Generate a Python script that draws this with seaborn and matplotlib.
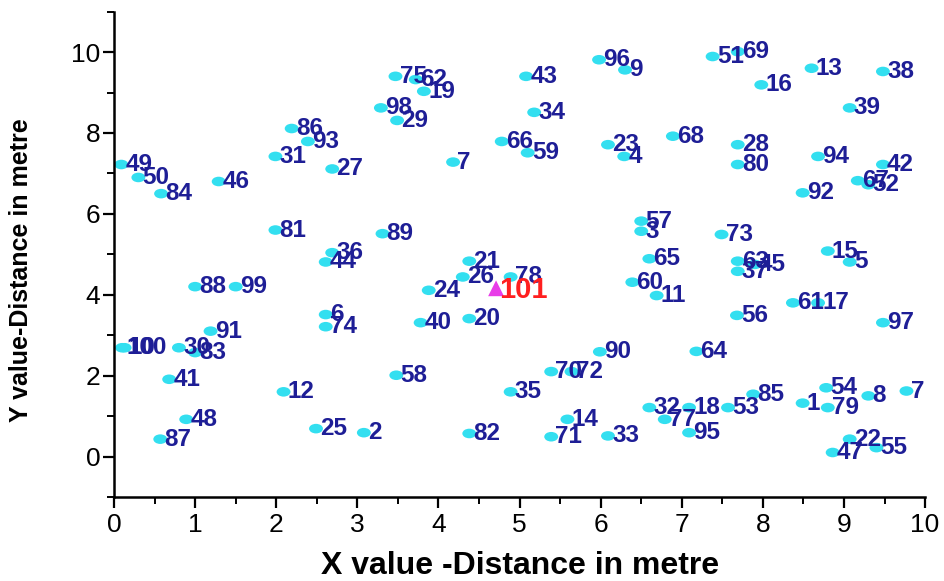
import matplotlib
matplotlib.use("Agg")
import matplotlib.pyplot as plt
import seaborn as sns
import pandas as pd
from matplotlib.ticker import MultipleLocator
from matplotlib.path import Path
from matplotlib.transforms import Affine2D

labels = ["1", "2", "3", "4", "5", "6", "7", "7", "8", "9", "10", "11", "12", "13", "14", "15",
          "16", "17", "18", "19", "20", "21", "22", "23", "24", "25", "26", "27", "28", "29",
          "30", "31", "32", "33", "34", "35", "36", "37", "38", "39", "40", "41", "42", "43",
          "44", "45", "46", "47", "48", "49", "50", "51", "52", "53", "54", "55", "56", "57",
          "58", "59", "60", "61", "62", "63", "64", "65", "66", "67", "68", "69", "70", "71",
          "72", "73", "74", "75", "77", "78", "79", "80", "81", "82", "83", "84", "85", "86",
          "87", "88", "89", "90", "91", "92", "93", "94", "95", "96", "97", "98", "99", "100"]
x_vals = [8.49, 3.08, 6.50, 6.29, 9.07, 2.61, 4.18, 9.77, 9.30, 6.30, 0.13, 6.69, 2.09, 8.60, 5.59, 8.80,
          7.98, 8.68, 7.09, 3.82, 4.38, 4.38, 9.07, 6.09, 3.88, 2.49, 4.30, 2.69, 7.69, 3.49,
          0.80, 1.99, 6.60, 6.09, 5.18, 4.89, 2.69, 7.69, 9.48, 9.07, 3.78, 0.68, 9.48, 5.08,
          2.61, 7.90, 1.29, 8.86, 0.89, 0.09, 0.30, 7.38, 9.30, 7.57, 8.78, 9.40, 7.68, 6.50,
          3.48, 5.10, 6.39, 8.37, 3.72, 7.69, 7.18, 6.60, 4.78, 9.17, 6.89, 7.69, 5.39, 5.39,
          5.64, 7.49, 2.61, 3.47, 6.79, 4.89, 8.80, 7.69, 1.99, 4.38, 1.00, 0.58, 7.88, 2.19,
          0.57, 1.00, 3.31, 5.99, 1.19, 8.49, 2.39, 8.68, 7.09, 5.98, 9.48, 3.29, 1.50, 0.10]
y_vals = [1.32, 0.59, 5.57, 7.42, 4.81, 3.51, 7.28, 1.62, 1.50, 9.56, 2.69, 3.98, 1.60, 9.60, 0.92, 5.08,
          9.19, 3.80, 1.21, 9.03, 3.41, 4.83, 0.43, 7.71, 4.11, 0.69, 4.44, 7.11, 7.71, 8.31,
          2.69, 7.42, 1.21, 0.51, 8.51, 1.60, 5.04, 4.58, 9.52, 8.62, 3.31, 1.91, 7.22, 9.40,
          4.81, 4.75, 6.80, 0.10, 0.92, 7.22, 6.90, 9.89, 6.72, 1.21, 1.70, 0.22, 3.49, 5.82,
          2.01, 7.51, 4.31, 3.80, 9.32, 4.83, 2.60, 4.89, 7.79, 6.82, 7.92, 10.01, 2.10, 0.49,
          2.10, 5.49, 3.21, 9.40, 0.92, 4.44, 1.21, 7.22, 5.60, 0.57, 2.57, 6.50, 1.54, 8.11,
          0.43, 4.20, 5.51, 2.59, 3.10, 6.52, 7.79, 7.42, 0.59, 9.81, 3.31, 8.62, 4.20, 2.69]

ref_label = "101"
ref_x = [4.71]
ref_y = [4.16]

x_title = "X value -Distance in metre"
y_title = "Y value-Distance in metre"

sns.set_style("white")
plt.rcParams['font.family'] = ['Liberation Sans', 'DejaVu Sans']

fig = plt.figure(figsize=(9.44, 5.81), dpi=100)
ax = fig.add_axes([0.1208, 0.1446, 0.8592, 0.8354])

ellipse = Path.unit_circle().transformed(Affine2D().scale(1.45, 1.0))

df = pd.DataFrame({"x": x_vals, "y": y_vals, "label": labels})
sns.scatterplot(data=df, x="x", y="y", ax=ax, color="#33dff0", s=100,
                edgecolor="none", marker=ellipse, zorder=2)
for lab, xv, yv in zip(labels, x_vals, y_vals):
    ax.annotate(lab, (xv, yv), xytext=(3, 0), textcoords="offset points",
                ha="left", va="center", fontsize=17.5, fontweight="bold",
                color="#1e1e96", zorder=3)

df_ref = pd.DataFrame({"x": ref_x, "y": ref_y})
sns.scatterplot(data=df_ref, x="x", y="y", ax=ax, color="#e83ce8", s=130,
                marker="^", edgecolor="none", zorder=4)
ax.annotate(ref_label, (ref_x[0], ref_y[0]), xytext=(2, -1), textcoords="offset points",
            ha="left", va="center", fontsize=21, fontweight="bold", color="#ff1f1f", zorder=5)

ax.set_xlim(0, 10)
ax.set_ylim(-1, 11)
ax.xaxis.set_major_locator(MultipleLocator(1))
ax.xaxis.set_minor_locator(MultipleLocator(0.5))
ax.yaxis.set_major_locator(MultipleLocator(2))
ax.yaxis.set_minor_locator(MultipleLocator(1))
ax.set_yticks([0, 2, 4, 6, 8, 10])

for side in ["top", "right"]:
    ax.spines[side].set_visible(False)
for side in ["left", "bottom"]:
    ax.spines[side].set_linewidth(1.8)
    ax.spines[side].set_color("black")

ax.tick_params(axis="both", which="major", direction="out", length=8, width=1.6,
               labelsize=19, colors="black", left=True, bottom=True)
ax.tick_params(axis="y", which="major", pad=2)
ax.tick_params(axis="both", which="minor", direction="out", length=5, width=1.4,
               colors="black", left=True, bottom=True)

ax.set_xlabel(x_title, fontsize=23, fontweight="bold", labelpad=10, color="black")
ax.set_ylabel(y_title, fontsize=18, fontweight="bold", color="black")
ax.yaxis.set_label_coords(-0.1, 0.468)
ax.grid(False)

fig.savefig("out.png", dpi=100)
